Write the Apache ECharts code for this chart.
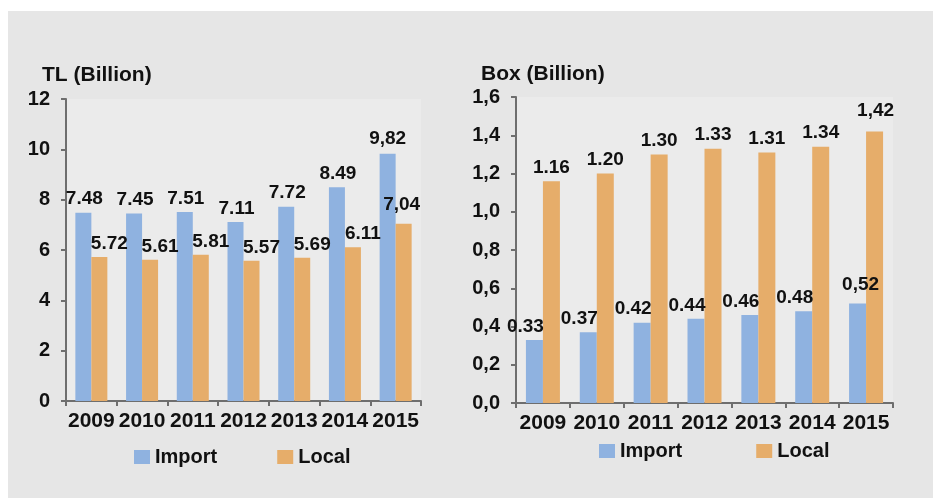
<!DOCTYPE html>
<html>
<head>
<meta charset="utf-8">
<script src="https://cdn.jsdelivr.net/npm/echarts@6/dist/echarts.min.js"></script>
<style>
  html, body { margin: 0; padding: 0; background: #ffffff; }
  #wrap { position: relative; width: 933px; height: 498px; background: #ffffff; }
  #panel { position: absolute; left: 8px; top: 11px; right: 0; bottom: 0; background: #e6e6e6; }
  #chart { position: absolute; left: 0; top: 0; width: 933px; height: 498px; }
</style>
</head>
<body>
<div id="wrap">
  <div id="panel"></div>
  <div id="chart"></div>
</div>
<script>
// Years shown on both charts
const years = ['2009', '2010', '2011', '2012', '2013', '2014', '2015'];

// Turnover in TL (billion)
const tlImport = [7.48, 7.45, 7.51, 7.11, 7.72, 8.49, 9.82];
const tlLocal  = [5.72, 5.61, 5.81, 5.57, 5.69, 6.11, 7.04];

// Boxes sold (billion)
const boxImport = [0.33, 0.37, 0.42, 0.44, 0.46, 0.48, 0.52];
const boxLocal  = [1.16, 1.20, 1.30, 1.33, 1.31, 1.34, 1.42];

// Years whose value labels are written with a decimal comma
const commaYears = ['2015'];

const seriesNames = ['Import', 'Local'];
const titles = ['TL (Billion)', 'Box (Billion)'];

const BLUE = '#8fb2e0';
const ORANGE = '#e6ad6a';
const FONT = '"Liberation Sans", Arial, Helvetica, sans-serif';
const INK = '#111111';

function labelText(value, idx) {
  const s = value.toFixed(2);
  return commaYears.indexOf(years[idx]) >= 0 ? s.replace('.', ',') : s;
}

// Bar data with label nudges so neighbouring labels stay clear of each other
function barItems(values, shiftX, lastShift) {
  return values.map(function (v, i) {
    const last = i === values.length - 1;
    return {
      value: v,
      label: { offset: [last ? lastShift[0] : shiftX, last ? lastShift[1] : 0] }
    };
  });
}

function labelStyle() {
  return {
    show: true,
    position: 'top',
    distance: 4,
    color: INK,
    fontFamily: FONT,
    fontWeight: 'bold',
    fontSize: 19,
    formatter: function (p) { return labelText(p.value, p.dataIndex); }
  };
}

const axisLineStyle = { color: '#6e6e6e', width: 2 };
const tickLabel = { color: INK, fontFamily: FONT, fontWeight: 'bold', fontSize: 20 };
const yearLabel = { color: INK, fontFamily: FONT, fontWeight: 'bold', fontSize: 21 };
const titleStyle = { color: INK, fontFamily: FONT, fontWeight: 'bold', fontSize: 21 };

const chart = echarts.init(document.getElementById('chart'), null, { renderer: 'canvas' });

chart.setOption({
  backgroundColor: 'transparent',
  animation: false,
  color: [BLUE, ORANGE],
  title: [
    { text: titles[0], left: 42, top: 65, padding: 0, textStyle: titleStyle },
    { text: titles[1], left: 481, top: 64, padding: 0, textStyle: titleStyle }
  ],
  legend: [
    { left: 134, top: 447, itemWidth: 16, itemHeight: 14, itemGap: 60,
      padding: 0, icon: 'rect', data: seriesNames,
      textStyle: { color: INK, fontFamily: FONT, fontWeight: 'bold', fontSize: 20 } },
    { left: 599, top: 441, itemWidth: 16, itemHeight: 14, itemGap: 74,
      padding: 0, icon: 'rect', data: seriesNames,
      textStyle: { color: INK, fontFamily: FONT, fontWeight: 'bold', fontSize: 20 } }
  ],
  grid: [
    { left: 66, right: 512, top: 99, bottom: 97, show: true,
      backgroundColor: '#ebebeb', borderWidth: 0 },
    { left: 516, right: 40, top: 97, bottom: 95, show: true,
      backgroundColor: '#ebebeb', borderWidth: 0 }
  ],
  xAxis: [
    { type: 'category', gridIndex: 0, data: years,
      axisLine: { lineStyle: axisLineStyle },
      axisTick: { show: true, length: 5, lineStyle: axisLineStyle },
      axisLabel: Object.assign({ margin: 10, interval: 0 }, yearLabel) },
    { type: 'category', gridIndex: 1, data: years,
      axisLine: { lineStyle: axisLineStyle },
      axisTick: { show: true, length: 5, lineStyle: axisLineStyle },
      axisLabel: Object.assign({ margin: 10, interval: 0 }, yearLabel) }
  ],
  yAxis: [
    { type: 'value', gridIndex: 0, min: 0, max: 12, interval: 2,
      axisLine: { show: true, lineStyle: axisLineStyle },
      axisTick: { show: true, length: 5, lineStyle: axisLineStyle },
      splitLine: { show: false },
      axisLabel: Object.assign({ margin: 16 }, tickLabel) },
    { type: 'value', gridIndex: 1, min: 0, max: 1.6, interval: 0.2,
      axisLine: { show: true, lineStyle: axisLineStyle },
      axisTick: { show: true, length: 5, lineStyle: axisLineStyle },
      splitLine: { show: false },
      axisLabel: Object.assign({
        margin: 16,
        formatter: function (v) { return v.toFixed(1).replace('.', ','); }
      }, tickLabel) }
  ],
  series: [
    { name: seriesNames[0], type: 'bar', xAxisIndex: 0, yAxisIndex: 0,
      barWidth: 16, barGap: '0%', itemStyle: { color: BLUE },
      data: barItems(tlImport, 1, [0, -2]), label: labelStyle() },
    { name: seriesNames[1], type: 'bar', xAxisIndex: 0, yAxisIndex: 0,
      barWidth: 16, barGap: '0%', itemStyle: { color: ORANGE },
      data: barItems(tlLocal, 10, [-2, -6]), label: labelStyle() },
    { name: seriesNames[0], type: 'bar', xAxisIndex: 1, yAxisIndex: 1,
      barWidth: 17, barGap: '0%', itemStyle: { color: BLUE },
      data: barItems(boxImport, -9, [3, -5]), label: labelStyle() },
    { name: seriesNames[1], type: 'bar', xAxisIndex: 1, yAxisIndex: 1,
      barWidth: 17, barGap: '0%', itemStyle: { color: ORANGE },
      data: barItems(boxLocal, 0, [1, -7]), label: labelStyle() }
  ]
});
</script>
</body>
</html>
